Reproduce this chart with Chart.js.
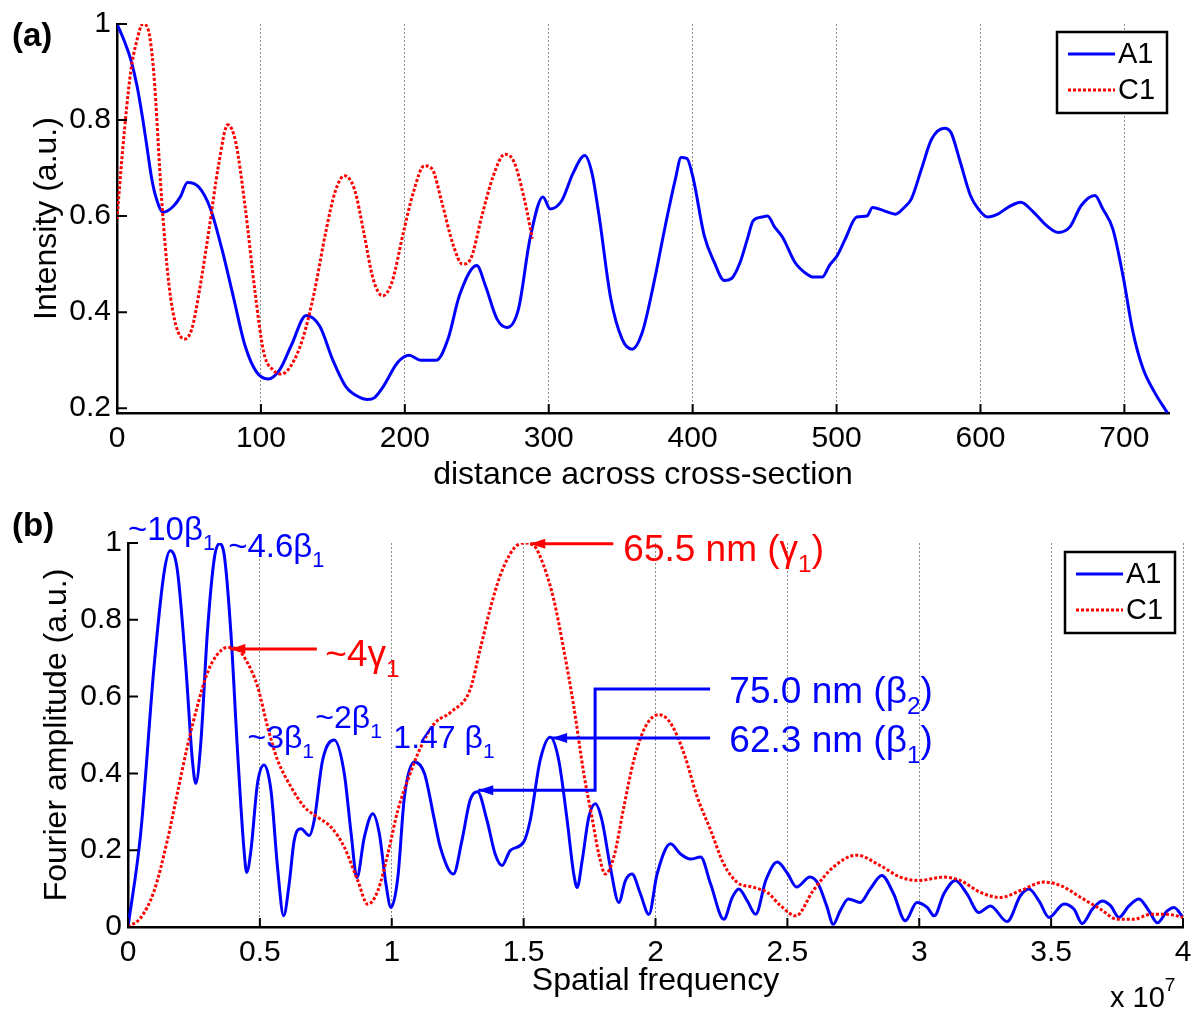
<!DOCTYPE html>
<html lang="en">
<head>
<meta charset="UTF-8">
<title>Intensity profile and Fourier amplitude</title>
<script src="https://cdn.jsdelivr.net/npm/chart.js@4.4.1/dist/chart.umd.min.js"></script>
<style>
    html, body { margin: 0; padding: 0; background: #fff; }
    #wrap { position: relative; width: 1196px; height: 1018px; }
    .panel { position: absolute; left: 0; width: 1196px; }
    #topPanel { top: 0; height: 505px; }
    #bottomPanel { top: 505px; height: 513px; }
</style>
</head>
<body>
<div id="wrap">
    <div class="panel" id="topPanel"><canvas id="chartA"></canvas></div>
    <div class="panel" id="bottomPanel"><canvas id="chartB"></canvas></div>
</div>

<script>
// ---- panel (a): intensity across the cross-section ----
const distA1 = [0, 5, 9.5, 14, 18, 21, 24, 27, 32, 39, 44, 49, 57, 65, 73, 81, 89, 97, 105, 113, 121, 131.5, 141, 150,
    159, 169, 174, 179, 185, 195, 203, 211, 222, 230, 238, 250, 256, 264, 271, 279, 287, 296, 301, 309, 317,
    325, 330, 335, 343, 351, 358, 365, 373, 381, 388, 392, 396, 400.5, 408, 415, 422, 427, 433, 438, 442,
    448, 452, 457, 462.5, 471, 479, 484, 490, 495, 500.5, 506, 514, 521, 525, 533, 541, 547, 552, 559, 566,
    575, 579.5, 586, 593, 598.5, 605, 612, 619, 628, 636, 646, 654, 662, 670, 679.5, 685, 692, 699, 706, 713,
    721, 730];
const intensityA1 = [1.0, 0.965, 0.927, 0.87, 0.80, 0.74, 0.68, 0.64, 0.608, 0.62, 0.64, 0.67, 0.66, 0.615, 0.53, 0.43, 0.33, 0.275, 0.261, 0.28, 0.33, 0.393, 0.37, 0.30,
    0.245, 0.222, 0.218, 0.222, 0.245, 0.295, 0.31, 0.30, 0.30, 0.344, 0.435, 0.497, 0.455, 0.386, 0.368, 0.407, 0.553, 0.64, 0.615, 0.632, 0.69,
    0.726, 0.69, 0.60, 0.43, 0.344, 0.323, 0.358, 0.46, 0.58, 0.677, 0.722, 0.72, 0.677, 0.56, 0.504, 0.466, 0.47, 0.504, 0.552, 0.59,
    0.598, 0.60, 0.577, 0.556, 0.504, 0.48, 0.473, 0.473, 0.497, 0.518, 0.552, 0.598, 0.60, 0.618, 0.611, 0.604, 0.618, 0.636, 0.698, 0.76,
    0.783, 0.774, 0.712, 0.643, 0.615, 0.598, 0.604, 0.618, 0.629, 0.611, 0.58, 0.566, 0.577, 0.622, 0.643, 0.615, 0.573, 0.476, 0.358, 0.282,
    0.233, 0.19];

const distC1 = [0, 4, 9.5, 13.5, 18, 21.5, 25.5, 31, 36, 41, 47, 52, 57, 64, 70.5, 77, 82.5, 89, 96, 102,
    109, 114, 121, 129, 137, 145, 151.5, 158, 165, 171.5, 178, 184.6, 191, 199, 206, 213.5, 219, 225.7, 233.7, 240,
    245.6, 253.5, 261.5, 269.5, 276, 283, 288.6];
const intensityC1 = [0.594, 0.74, 0.90, 0.962, 1.0, 0.99, 0.90, 0.636, 0.46, 0.372, 0.344, 0.365, 0.44, 0.573, 0.705, 0.79, 0.754, 0.62, 0.44, 0.316,
    0.278, 0.271, 0.289, 0.344, 0.44, 0.566, 0.65, 0.684, 0.656, 0.566, 0.469, 0.434, 0.462, 0.566, 0.65, 0.705, 0.698, 0.629, 0.539, 0.50,
    0.51, 0.60, 0.684, 0.729, 0.712, 0.636, 0.553];

const distTicks = [0, 100, 200, 300, 400, 500, 600, 700];
const intensityTicks = [0.2, 0.4, 0.6, 0.8, 1];

// ---- panel (b): Fourier amplitude, spatial frequency in units of 1e7 ----
const freqA1 = [0, 0.048, 0.099, 0.137, 0.16, 0.187, 0.219, 0.244, 0.257, 0.276, 0.301, 0.327, 0.346, 0.365, 0.39, 0.415, 0.44, 0.45, 0.466, 0.491,
    0.516, 0.542, 0.567, 0.59, 0.611, 0.63, 0.656, 0.687, 0.706, 0.738, 0.782, 0.82, 0.846, 0.868, 0.896, 0.928, 0.953, 0.978, 0.997, 1.023,
    1.048, 1.086, 1.124, 1.162, 1.184, 1.234, 1.266, 1.297, 1.325, 1.361, 1.392, 1.418, 1.449, 1.5, 1.525, 1.563, 1.601, 1.633, 1.665, 1.69,
    1.703, 1.722, 1.747, 1.772, 1.797, 1.829, 1.861, 1.886, 1.911, 1.943, 1.975, 2.006, 2.057, 2.095, 2.133, 2.171, 2.209, 2.259, 2.291, 2.316,
    2.348, 2.38, 2.418, 2.462, 2.5, 2.535, 2.586, 2.617, 2.649, 2.674, 2.7, 2.731, 2.776, 2.814, 2.858, 2.903, 2.947, 2.991, 3.03, 3.057,
    3.093, 3.137, 3.181, 3.226, 3.27, 3.333, 3.384, 3.416, 3.454, 3.492, 3.549, 3.587, 3.618, 3.656, 3.694, 3.726, 3.757, 3.795, 3.833, 3.871,
    3.903, 3.94, 3.966, 4.0];
const ampA1 = [0, 0.243, 0.68, 0.924, 0.98, 0.93, 0.68, 0.435, 0.374, 0.479, 0.767, 0.959, 0.998, 0.968, 0.767, 0.461, 0.199, 0.142, 0.199, 0.374,
    0.422, 0.356, 0.155, 0.029, 0.112, 0.225, 0.256, 0.238, 0.278, 0.435, 0.487, 0.40, 0.243, 0.129, 0.234, 0.295, 0.243, 0.112, 0.051, 0.129,
    0.339, 0.43, 0.40, 0.278, 0.208, 0.138, 0.225, 0.33, 0.352, 0.278, 0.19, 0.16, 0.199, 0.221, 0.278, 0.435, 0.494, 0.435, 0.278, 0.138,
    0.103, 0.173, 0.286, 0.321, 0.278, 0.155, 0.064, 0.121, 0.138, 0.086, 0.033, 0.138, 0.217, 0.19, 0.177, 0.182, 0.112, 0.02, 0.077, 0.099,
    0.068, 0.033, 0.121, 0.169, 0.14, 0.104, 0.13, 0.112, 0.055, 0.007, 0.042, 0.073, 0.064, 0.099, 0.134, 0.086, 0.016, 0.064, 0.051, 0.029,
    0.086, 0.121, 0.086, 0.038, 0.055, 0.014, 0.082, 0.099, 0.068, 0.025, 0.06, 0.046, 0.009, 0.046, 0.068, 0.055, 0.025, 0.055, 0.073, 0.042,
    0.011, 0.042, 0.051, 0.025];

const freqC1 = [0, 0.048, 0.099, 0.149, 0.187, 0.225, 0.263, 0.301, 0.339, 0.377, 0.415, 0.453, 0.491, 0.529, 0.567, 0.618, 0.668, 0.719, 0.77, 0.82,
    0.871, 0.909, 0.947, 0.985, 1.023, 1.061, 1.111, 1.162, 1.225, 1.297, 1.335, 1.373, 1.411, 1.462, 1.5, 1.538, 1.576, 1.614, 1.652, 1.69,
    1.728, 1.759, 1.785, 1.81, 1.842, 1.88, 1.918, 1.962, 2.013, 2.057, 2.108, 2.158, 2.209, 2.259, 2.31, 2.373, 2.424, 2.475, 2.532, 2.598,
    2.674, 2.763, 2.852, 2.928, 2.998, 3.093, 3.156, 3.232, 3.308, 3.384, 3.473, 3.536, 3.612, 3.688, 3.751, 3.814, 3.877, 3.94, 4.0];
const ampC1 = [0, 0.024, 0.094, 0.225, 0.348, 0.47, 0.575, 0.662, 0.71, 0.728, 0.723, 0.688, 0.627, 0.522, 0.435, 0.365, 0.313, 0.286, 0.26, 0.208,
    0.121, 0.059, 0.094, 0.19, 0.304, 0.383, 0.47, 0.53, 0.56, 0.618, 0.723, 0.828, 0.915, 0.985, 1.0, 0.994, 0.941, 0.854, 0.723, 0.575,
    0.40, 0.286, 0.19, 0.138, 0.182, 0.313, 0.435, 0.522, 0.553, 0.531, 0.452, 0.339, 0.252, 0.164, 0.116, 0.103, 0.09, 0.055, 0.029, 0.095,
    0.156, 0.187, 0.16, 0.13, 0.121, 0.13, 0.121, 0.09, 0.077, 0.095, 0.117, 0.108, 0.077, 0.046, 0.02, 0.02, 0.033, 0.033, 0.025];

const freqTicks = [0, 0.5, 1, 1.5, 2, 2.5, 3, 3.5, 4];
const ampTicks = [0, 0.2, 0.4, 0.6, 0.8, 1];

const BLUE = '#0000ff';
const RED = '#ff0000';
const FONT = '"Liberation Sans", Arial, sans-serif';

Chart.defaults.font.family = FONT;
Chart.defaults.color = '#000';

function points(xs, ys) {
    return xs.map((x, i) => ({ x: x, y: ys[i] }));
}

// text with subscript / superscript pieces, drawn at a baseline
function richText(ctx, parts, x, y, size, color) {
    ctx.save();
    ctx.fillStyle = color;
    ctx.textAlign = 'left';
    ctx.textBaseline = 'alphabetic';
    let cx = x;
    parts.forEach(p => {
        const kind = p[1] || '';
        const s = kind ? size * 0.66 : size;
        ctx.font = s + 'px ' + FONT;
        let dy = 0;
        if (kind === 'sub') dy = size * 0.3;
        if (kind === 'sup') dy = -size * 0.55;
        ctx.fillText(p[0], cx, y + dy);
        cx += ctx.measureText(p[0]).width;
    });
    ctx.restore();
}

function arrow(ctx, pts, color) {
    ctx.save();
    ctx.strokeStyle = color;
    ctx.fillStyle = color;
    ctx.lineWidth = 3;
    ctx.beginPath();
    ctx.moveTo(pts[0][0], pts[0][1]);
    for (let i = 1; i < pts.length; i++) ctx.lineTo(pts[i][0], pts[i][1]);
    ctx.stroke();
    const [tx, ty] = pts[pts.length - 1];
    const [px, py] = pts[pts.length - 2];
    const ang = Math.atan2(ty - py, tx - px);
    const len = 15, half = 5;
    ctx.beginPath();
    ctx.moveTo(tx, ty);
    ctx.lineTo(tx - len * Math.cos(ang) + half * Math.sin(ang), ty - len * Math.sin(ang) - half * Math.cos(ang));
    ctx.lineTo(tx - len * Math.cos(ang) - half * Math.sin(ang), ty - len * Math.sin(ang) + half * Math.cos(ang));
    ctx.closePath();
    ctx.fill();
    ctx.restore();
}

function drawLegend(ctx, left, top) {
    ctx.save();
    ctx.fillStyle = '#fff';
    ctx.fillRect(left, top, 110, 81);
    ctx.strokeStyle = '#000';
    ctx.lineWidth = 2.5;
    ctx.strokeRect(left, top, 110, 81);
    ctx.lineWidth = 3;
    ctx.strokeStyle = BLUE;
    ctx.beginPath(); ctx.moveTo(left + 11, top + 22); ctx.lineTo(left + 58, top + 22); ctx.stroke();
    ctx.strokeStyle = RED;
    ctx.setLineDash([3, 2]);
    ctx.beginPath(); ctx.moveTo(left + 11, top + 58); ctx.lineTo(left + 58, top + 58); ctx.stroke();
    ctx.setLineDash([]);
    ctx.fillStyle = '#000';
    ctx.font = '29px ' + FONT;
    ctx.textBaseline = 'middle';
    ctx.fillText('A1', left + 61, top + 23);
    ctx.fillText('C1', left + 61, top + 59);
    ctx.restore();
}

// matlab style ticks pointing into the plot
function innerTicks(chart) {
    const { ctx, chartArea: a, scales: { x, y } } = chart;
    ctx.save();
    ctx.strokeStyle = '#000';
    ctx.lineWidth = 2;
    ctx.beginPath();
    x.ticks.forEach(t => {
        const px = x.getPixelForValue(t.value);
        ctx.moveTo(px, a.bottom);
        ctx.lineTo(px, a.bottom - 9);
    });
    y.ticks.forEach(t => {
        const py = y.getPixelForValue(t.value);
        ctx.moveTo(a.left, py);
        ctx.lineTo(a.left + 10, py);
    });
    ctx.stroke();
    ctx.restore();
}

function fixedBox(width, height) {
    return function (s) {
        if (width) s.width = width;
        if (height) s.height = height;
        s.paddingTop = 0; s.paddingBottom = 0; s.paddingLeft = 0; s.paddingRight = 0;
    };
}

function lineSet(label, pts, color, dashed) {
    return {
        label: label,
        data: pts,
        borderColor: color,
        borderWidth: 3,
        borderDash: dashed ? [3, 2] : [],
        pointRadius: 0,
        fill: false,
        cubicInterpolationMode: 'monotone'
    };
}

function baseOptions(o) {
    return {
        responsive: true,
        maintainAspectRatio: false,
        animation: false,
        layout: { padding: o.padding },
        plugins: { legend: { display: false }, tooltip: { enabled: false } },
        scales: {
            x: {
                type: 'linear',
                min: o.xMin, max: o.xMax,
                afterBuildTicks: s => { s.ticks = o.xTicks.map(v => ({ value: v })); },
                afterFit: fixedBox(0, o.xHeight),
                ticks: { font: { size: 30 }, color: '#000', padding: 8, maxRotation: 0, autoSkip: false, callback: v => String(v) },
                grid: { drawTicks: false, lineWidth: 1, color: c => (c.tick && c.tick.value === 0) ? 'rgba(0,0,0,0)' : '#8c8c8c' },
                border: { color: '#000', width: 2.5, dash: [2, 2] },
                title: { display: true, text: o.xTitle, font: { size: 32 }, color: '#000', padding: { top: 0, bottom: o.xTitlePad } }
            },
            y: {
                type: 'linear',
                min: o.yMin, max: o.yMax,
                afterBuildTicks: s => { s.ticks = o.yTicks.map(v => ({ value: v })); },
                afterFit: fixedBox(o.yWidth, 0),
                ticks: { font: { size: 30 }, color: '#000', padding: 6, autoSkip: false, callback: v => String(v) },
                grid: { display: false, drawTicks: false },
                border: { color: '#000', width: 2.5 },
                title: { display: true, text: o.yTitle, font: { size: 32 }, color: '#000', padding: { top: o.yTitlePad, bottom: 0 } }
            }
        }
    };
}

// ---- chart (a) ----
const decorA = {
    id: 'decorA',
    afterDraw(chart) {
        const ctx = chart.ctx;
        innerTicks(chart);
        ctx.save();
        ctx.font = 'bold 33px ' + FONT;
        ctx.fillStyle = '#000';
        ctx.textBaseline = 'middle';
        ctx.fillText('(a)', 12, 37);
        ctx.restore();
        drawLegend(ctx, 1057, 32);
    }
};

new Chart(document.getElementById('chartA'), {
    type: 'line',
    data: {
        datasets: [
            lineSet('C1', points(distC1, intensityC1), RED, true),
            lineSet('A1', points(distA1, intensityA1), BLUE, false)
        ]
    },
    options: baseOptions({
        padding: { top: 24, right: 27, left: 0, bottom: 0 },
        xMin: 0, xMax: 731, xTicks: distTicks, xHeight: 92,
        xTitle: 'distance across cross-section', xTitlePad: 11,
        yMin: 0.19, yMax: 1, yTicks: intensityTicks, yWidth: 117,
        yTitle: 'Intensity (a.u.)', yTitlePad: 28
    }),
    plugins: [decorA]
});

// ---- chart (b) ----
const decorB = {
    id: 'decorB',
    afterDraw(chart) {
        const ctx = chart.ctx;
        const X = v => chart.scales.x.getPixelForValue(v);
        const Y = v => chart.scales.y.getPixelForValue(v);
        innerTicks(chart);

        ctx.save();
        ctx.font = 'bold 33px ' + FONT;
        ctx.fillStyle = '#000';
        ctx.textBaseline = 'middle';
        ctx.fillText('(b)', 12, 22);
        ctx.restore();

        // peak labels
        richText(ctx, [['~10β'], ['1', 'sub']], X(0), Y(1.008), 33, BLUE);
        richText(ctx, [['~4.6β'], ['1', 'sub']], X(0.38), Y(0.963), 33, BLUE);
        richText(ctx, [['~3β'], ['1', 'sub']], X(0.453), Y(0.465), 32, BLUE);
        richText(ctx, [['~2β'], ['1', 'sub']], X(0.71), Y(0.517), 32, BLUE);
        richText(ctx, [['1.47 β'], ['1', 'sub']], X(1.006), Y(0.465), 32, BLUE);

        // red arrows
        arrow(ctx, [[X(0.716), Y(0.724)], [X(0.388), Y(0.724)]], RED);
        richText(ctx, [['~4γ'], ['1', 'sub']], X(0.748), Y(0.68), 37, RED);
        arrow(ctx, [[X(1.84), Y(0.998)], [X(1.525), Y(0.998)]], RED);
        richText(ctx, [['65.5 nm (γ'], ['1', 'sub'], [')']], X(1.878), Y(0.953), 37, RED);

        // blue arrows
        arrow(ctx, [[X(2.207), Y(0.62)], [X(1.771), Y(0.62)], [X(1.771), Y(0.356)], [X(1.328), Y(0.356)]], BLUE);
        arrow(ctx, [[X(2.207), Y(0.492)], [X(1.608), Y(0.492)]], BLUE);
        richText(ctx, [['75.0 nm (β'], ['2', 'sub'], [')']], X(2.28), Y(0.584), 37, BLUE);
        richText(ctx, [['62.3 nm (β'], ['1', 'sub'], [')']], X(2.28), Y(0.455), 37, BLUE);

        drawLegend(ctx, 1065, 47);

        // axis multiplier
        richText(ctx, [['x 10'], ['7', 'sup']], 1110, 502, 29, '#000');
    }
};

new Chart(document.getElementById('chartB'), {
    type: 'line',
    data: {
        datasets: [
            lineSet('C1', points(freqC1, ampC1), RED, true),
            lineSet('A1', points(freqA1, ampA1), BLUE, false)
        ]
    },
    options: baseOptions({
        padding: { top: 38, right: 13, left: 0, bottom: 0 },
        xMin: 0, xMax: 4, xTicks: freqTicks, xHeight: 91,
        xTitle: 'Spatial frequency', xTitlePad: 18,
        yMin: 0, yMax: 1, yTicks: ampTicks, yWidth: 128,
        yTitle: 'Fourier amplitude (a.u.)', yTitlePad: 38
    }),
    plugins: [decorB]
});
</script>
</body>
</html>
